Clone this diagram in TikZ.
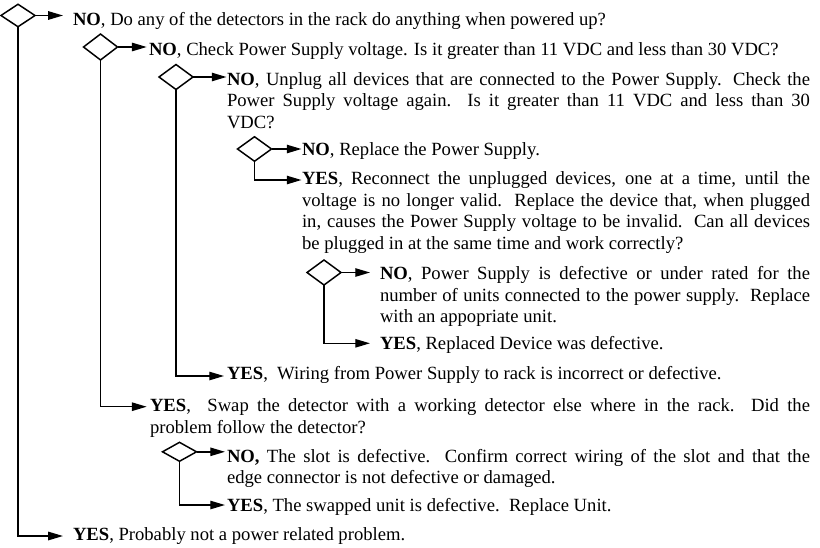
\documentclass[tikz,border=0pt]{standalone}
\usepackage{fontspec}
\setmainfont{Liberation Serif}
\usetikzlibrary{arrows.meta,shapes.geometric}
\tikzset{
  dia/.style={draw, shape=diamond, inner sep=0pt, outer sep=0pt, line width=0.95pt, minimum width=21.9pt},
  txt/.style={anchor=base west, inner sep=0pt, outer sep=0pt, font=\fontsize{12pt}{13.9pt}\selectfont},
  para/.style={txt, align=justify},
  link/.style={line width=0.95pt, -{Triangle[length=9.5pt,width=5.4pt]}},
}
\begin{document}
\begin{tikzpicture}[x=0.644pt,y=-0.644pt]
\useasboundingbox (0,0) rectangle (820,547);
% decision diamonds
\node[dia, minimum height=14.5pt] (d1) at (18,15.5) {};
\node[dia, minimum height=16.7pt] (d2) at (100.5,47) {};
\node[dia, minimum height=16.1pt] (d3) at (176,77) {};
\node[dia, minimum height=15.8pt] (d4) at (254.5,149) {};
\node[dia, minimum height=16.1pt] (d5) at (324,272.5) {};
\node[dia, minimum height=12.2pt] (d7) at (179.5,451.8) {};
% arrow tips
\coordinate (n1) at (63,15.5);
\coordinate (y1) at (63,536);
\coordinate (n2) at (146.7,47);
\coordinate (y2) at (146.7,406.7);
\coordinate (n3) at (226.5,77);
\coordinate (y3) at (224,376);
\coordinate (n4) at (301.5,149);
\coordinate (y4) at (301.5,180);
\coordinate (n5) at (370,272.5);
\coordinate (y5) at (370,343.3);
\coordinate (n7) at (225,451.8);
\coordinate (y7) at (225,505);
% connectors
\draw[link] (d1.east) -- (n1);
\draw[link] (d1.south) |- (y1);
\draw[link] (d2.east) -- (n2);
\draw[link] (d2.south) |- (y2);
\draw[link] (d3.east) -- (n3);
\draw[link] (d3.south) |- (y3);
\draw[link] (d4.east) -- (n4);
\draw[link] (d4.south) |- (y4);
\draw[link] (d5.east) -- (n5);
\draw[link] (d5.south) |- (y5);
\draw[link] (d7.east) -- (n7);
\draw[link] (d7.south) |- (y7);
% texts
\node[txt] (t1) at (73,25.5) {\textbf{NO}, Do any of the detectors in the rack do anything when powered up?};
\node[txt] (t2) at (149,55) {\textbf{NO}, Check Power Supply voltage. Is it greater than 11 VDC and less than 30 VDC?};
\node[para, text width=375.45pt] (t3) at (227,85) {\textbf{NO}, Unplug all devices that are connected to the Power Supply. Check the\linebreak Power Supply voltage again.\ \ Is it greater than 11 VDC and less than 30\linebreak VDC?};
\node[txt] (t4) at (302,155) {\textbf{NO}, Replace the Power Supply.};
\node[para, text width=327.15pt] (t5) at (302,184.5) {\textbf{YES}, Reconnect the unplugged devices, one at a time, until the\linebreak voltage is no longer valid.\ \ Replace the device that, when plugged\linebreak in, causes the Power Supply voltage to be invalid.\ \ Can all devices\linebreak be plugged in at the same time and work correctly?};
\node[para, text width=276.92pt] (t6) at (380,279.5) {\textbf{NO}, Power Supply is defective or under rated for the\linebreak number of units connected to the power supply.\ \ Replace\linebreak with an appopriate unit.};
\node[txt] (t7) at (380,349) {\textbf{YES}, Replaced Device was defective.};
\node[txt] (t8) at (227,379.5) {\textbf{YES},\ \ Wiring from Power Supply to rack is incorrect or defective.};
\node[para, text width=425.04pt] (t9) at (150,411.7) {\textbf{YES},\ \ Swap the detector with a working detector else where in the rack.\ \ Did the\linebreak problem follow the detector?};
\node[para, text width=375.45pt] (t10) at (227,462) {\textbf{NO,} The slot is defective.\ \ Confirm correct wiring of the slot and that the\linebreak edge connector is not defective or damaged.};
\node[txt] (t11) at (227,511.5) {\textbf{YES}, The swapped unit is defective.\ \ Replace Unit.};
\node[txt] (t12) at (73,540) {\textbf{YES}, Probably not a power related problem.};
\end{tikzpicture}
\end{document}
